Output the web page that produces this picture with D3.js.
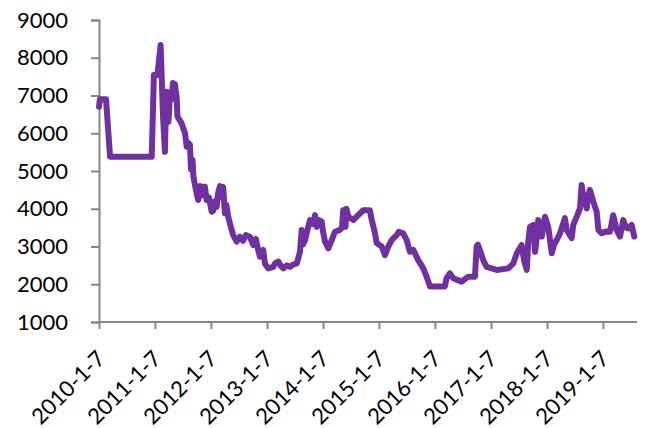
<!DOCTYPE html>
<html><head><meta charset="utf-8">
<script src="https://cdn.jsdelivr.net/npm/d3@7/dist/d3.min.js"></script>
<style>
html,body{margin:0;padding:0;background:#fff;}
svg text{font-family:Lato,"Open Sans",sans-serif;fill:#000;}
</style></head>
<body><svg id="chart" width="645" height="428"></svg>
<script>
const dates = [
"2010-01-07","2010-01-13","2010-02-22","2010-03-20","2010-12-17","2010-12-31",
"2011-01-23","2011-02-13","2011-02-28","2011-03-13","2011-03-20","2011-03-26","2011-04-05","2011-04-15","2011-04-25",
"2011-05-04","2011-05-17","2011-05-28","2011-06-03","2011-06-30","2011-07-22","2011-08-02","2011-08-10","2011-08-23",
"2011-08-30","2011-09-09","2011-09-15","2011-10-01","2011-10-16","2011-10-27","2011-11-07","2011-11-16","2011-11-29",
"2011-12-10","2011-12-25",
"2012-01-12","2012-01-22","2012-02-02","2012-02-13","2012-02-22","2012-03-06","2012-03-15","2012-03-27","2012-04-07",
"2012-04-17","2012-04-29","2012-05-10","2012-05-31","2012-06-23","2012-07-14","2012-08-03","2012-08-22","2012-09-17",
"2012-10-09","2012-10-26","2012-11-10","2012-11-22","2012-12-13","2012-12-24",
"2013-01-15","2013-02-17","2013-02-28","2013-03-22","2013-04-08","2013-04-23","2013-05-17","2013-06-06","2013-06-26",
"2013-07-20","2013-08-10","2013-08-21","2013-08-30","2013-09-12","2013-09-25","2013-10-14","2013-11-03","2013-11-16",
"2013-11-27","2013-12-12","2013-12-30",
"2014-01-07","2014-01-20","2014-02-11","2014-03-05","2014-03-26","2014-04-28","2014-05-11","2014-05-19","2014-05-27",
"2014-06-03","2014-06-09","2014-06-21","2014-07-24","2014-08-25","2014-09-27","2014-11-09","2014-11-21","2014-12-12",
"2014-12-23",
"2015-01-25","2015-02-15","2015-03-09","2015-03-31","2015-05-02","2015-05-17","2015-06-14","2015-07-07","2015-07-28",
"2015-08-19","2015-09-20","2015-10-23","2015-11-14","2015-12-06",
"2016-03-12","2016-03-23","2016-04-14","2016-05-05","2016-06-29","2016-08-11","2016-09-24","2016-10-05","2016-10-13",
"2016-10-26","2016-11-17","2016-12-09",
"2017-02-13","2017-04-30","2017-06-01","2017-06-24","2017-07-26","2017-08-10","2017-08-28","2017-09-07","2017-09-18",
"2017-10-10","2017-10-21","2017-10-31","2017-11-11","2017-12-04","2017-12-25",
"2018-01-15","2018-02-07","2018-02-22","2018-03-11","2018-04-02","2018-05-04","2018-05-15","2018-06-17","2018-06-27",
"2018-07-20","2018-08-10","2018-08-21","2018-09-01","2018-09-23","2018-10-01","2018-10-14","2018-11-05","2018-11-27",
"2018-12-08","2018-12-30",
"2019-01-27","2019-02-22","2019-03-15","2019-04-06","2019-04-28","2019-05-19","2019-06-06","2019-06-21","2019-07-13",
"2019-07-30"
];
const values = [
6700,6900,6900,5380,5380,7540,
7540,8340,6500,5510,6800,7100,6300,7000,6900,
7330,7300,6970,6440,6260,6000,5640,5750,5700,
5050,5300,4850,4500,4230,4600,4350,4580,4580,
4230,4300,
3920,3950,4200,4050,4400,4600,4300,4580,3880,
4100,3790,3610,3300,3130,3260,3150,3300,3260,
3040,3200,2910,2730,2910,2550,
2420,2460,2550,2600,2480,2420,2500,2460,2520,
2550,2860,3440,3050,3170,3400,3700,3600,3830,
3520,3700,3660,
3400,3130,2950,3170,3390,3440,3500,3960,3700,
3520,4000,3790,3700,3830,3960,3960,3700,3350,
3090,
3000,2770,3000,3170,3300,3390,3350,3170,2860,
2910,2640,2420,2200,1940,
1940,2160,2290,2160,2070,2200,2200,3000,3050,
2910,2640,2460,
2380,2420,2550,2820,3040,2640,2380,3130,3520,
3570,2860,3200,3700,3260,3790,
3520,2820,3050,3170,3350,3750,3440,3220,3570,
3790,4010,4630,4320,4010,4300,4500,4190,3920,
3440,3350,
3400,3390,3830,3440,3260,3700,3500,3480,3570,
3260
];
const yTicks = [1000,2000,3000,4000,5000,6000,7000,8000,9000];
const xTickLabels = ["2010-1-7","2011-1-7","2012-1-7","2013-1-7","2014-1-7","2015-1-7","2016-1-7","2017-1-7","2018-1-7","2019-1-7"];
const xStart = "2010-01-07", xEnd = "2019-08-17";

const parse = d3.timeParse("%Y-%m-%d");
const data = dates.map((d,i)=>({date:parse(d), value:values[i]}));
const tickDates = xTickLabels.map(s=>parse(s.replace(/-(\d)-(\d)$/, "-0$1-0$2")));

const svg = d3.select("#chart");
const x = d3.scaleTime().domain([parse(xStart), parse(xEnd)]).range([99, 637]);
const y = d3.scaleLinear().domain([1000, 9000]).range([322, 20]);
const axisColor = "#868686";

// Y axis
const yAxis = svg.append("g").attr("transform","translate(99,0)")
  .call(d3.axisLeft(y).tickValues(yTicks).tickSize(8).tickPadding(23).tickFormat(d3.format("d")));
yAxis.select(".domain").attr("stroke",axisColor).attr("stroke-width",2);
yAxis.selectAll(".tick line").attr("stroke",axisColor).attr("stroke-width",2);
yAxis.selectAll(".tick text").attr("font-size",22).attr("font-family","Lato").attr("fill","#000");

// X axis
const xAxis = svg.append("g").attr("transform","translate(0,322)")
  .call(d3.axisBottom(x).tickValues(tickDates).tickSize(7).tickFormat((d,i)=>xTickLabels[i]));
xAxis.select(".domain").attr("stroke",axisColor).attr("stroke-width",2).attr("d","M99,0H637");
xAxis.selectAll(".tick line").attr("stroke",axisColor).attr("stroke-width",2);
xAxis.selectAll(".tick text")
  .attr("font-size",22).attr("font-family","Lato").attr("fill","#000")
  .attr("text-anchor","end").attr("y",0).attr("dy",0)
  .attr("transform","translate(7,38) rotate(-45)");

// Line
const line = d3.line().x(d=>x(d.date)).y(d=>y(d.value));
svg.append("path").datum(data)
  .attr("fill","none").attr("stroke","#7030A0").attr("stroke-width",6)
  .attr("stroke-linejoin","round").attr("stroke-linecap","round")
  .attr("d",line);
</script></body></html>
